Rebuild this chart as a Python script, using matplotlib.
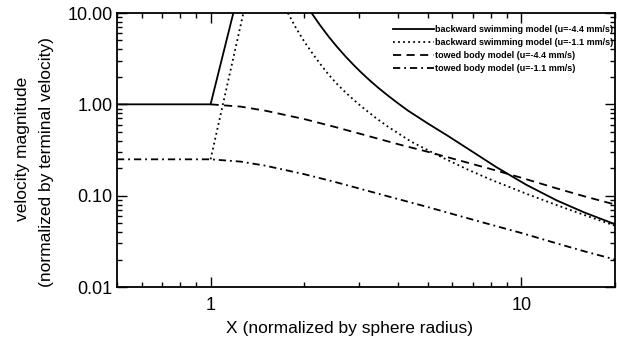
import matplotlib
matplotlib.use('Agg')
import matplotlib.pyplot as plt
from matplotlib.ticker import LogLocator, FixedLocator, FixedFormatter, NullFormatter

plt.rcParams['font.family'] = ['Liberation Sans', 'DejaVu Sans']

# backward swimming model, u=-4.4 mm/s (goes off the top between ~1.2 and ~2.1)
swim44_x = [0.5, 1.0, 1.3, 1.6, 1.8, 2.0, 2.113, 2.25, 2.404, 2.55, 2.716, 2.9, 3.066, 3.25, 3.465,
            3.73, 4.01, 4.31, 5.0, 5.78, 7.0, 8.33, 10.37, 13, 16, 20]
swim44_v = [1.0, 1.0, 36, 200, 50, 13.5, 10.0, 7.35, 5.45, 4.27, 3.35, 2.65, 2.20, 1.83, 1.515,
            1.238, 1.025, 0.856, 0.617, 0.455, 0.299, 0.204, 0.1315, 0.0886, 0.0651, 0.0487]

# backward swimming model, u=-1.1 mm/s
swim11_x = [1.0, 1.3, 1.5, 1.7, 1.773, 1.885, 2.0, 2.128, 2.26, 2.404, 2.55, 2.716, 2.9, 3.066,
            3.4, 3.73, 4.42, 5.51, 6.7, 8.0, 10.37, 13, 16, 20]
swim11_v = [0.25, 13.4, 50, 14.0, 10.0, 6.80, 4.89, 3.60, 2.73, 2.09, 1.675, 1.352, 1.104, 0.939,
            0.710, 0.566, 0.39, 0.266, 0.194, 0.149, 0.105, 0.0787, 0.0611, 0.0469]

# towed body model, u=-4.4 mm/s
tow44_x = [1.0, 1.25, 1.5, 2, 2.5, 3, 4, 5, 6, 8, 10, 13, 16, 20]
tow44_v = [1.0, 0.944, 0.852, 0.69, 0.568, 0.48, 0.367, 0.302, 0.255, 0.195, 0.157, 0.12, 0.098, 0.08]

# towed body model, u=-1.1 mm/s
tow11_x = [0.5, 1.0, 1.25, 1.5, 2, 2.5, 3, 4, 5, 6, 8, 10, 13, 16, 20]
tow11_v = [0.25, 0.25, 0.236, 0.213, 0.172, 0.142, 0.12, 0.092, 0.075, 0.063, 0.048, 0.039, 0.030, 0.0245, 0.020]

labels = ['backward swimming model (u=-4.4 mm/s)',
          'backward swimming model (u=-1.1 mm/s)',
          'towed body model (u=-4.4 mm/s)',
          'towed body model (u=-1.1 mm/s)']

yticks = [0.01, 0.1, 1, 10]
ytick_labels = ['0.01', '0.10', '1.00', '10.00']
xticks = [1, 10]
xtick_labels = ['1', '10']

fig = plt.figure(figsize=(6.17, 3.41), dpi=100)
ax = fig.add_axes([117/617, 1 - 287/341, 498/617, 274/341])

lw = 1.3
ax.plot(swim44_x, swim44_v, color='black', lw=lw, linestyle='-', label=labels[0])
ax.plot(swim11_x, swim11_v, color='black', lw=lw, linestyle=(0, (1, 1.8)), label=labels[1])
ax.plot(tow44_x, tow44_v, color='black', lw=lw, linestyle=(0, (4.5, 3)), label=labels[2])
ax.plot(tow11_x, tow11_v, color='black', lw=lw, linestyle=(0, (4, 2.2, 1, 2.2)), label=labels[3])

ax.set_xscale('log')
ax.set_yscale('log')
ax.set_xlim(0.5, 20)
ax.set_ylim(0.01, 10)

ax.xaxis.set_major_locator(FixedLocator(xticks))
ax.xaxis.set_major_formatter(FixedFormatter(xtick_labels))
ax.xaxis.set_minor_locator(LogLocator(base=10, subs=range(2, 10)))
ax.xaxis.set_minor_formatter(NullFormatter())
ax.yaxis.set_major_locator(FixedLocator(yticks))
ax.yaxis.set_major_formatter(FixedFormatter(ytick_labels))
ax.yaxis.set_minor_locator(LogLocator(base=10, subs=range(2, 10)))
ax.yaxis.set_minor_formatter(NullFormatter())

ax.tick_params(which='both', direction='in', top=True, right=True, width=1.0, labelsize=13)
ax.tick_params(which='major', length=7)
ax.tick_params(which='minor', length=3.5)
ax.tick_params(axis='x', pad=7)
ax.tick_params(axis='y', pad=3)
for s in ax.spines.values():
    s.set_linewidth(1.3)

fig.text(350/617, 1 - 328/341, 'X (normalized by sphere radius)', fontsize=12.5,
         ha='center', va='center')
fig.text(22.5/617, 1 - 149/341, 'velocity magnitude',
         fontsize=12.5, rotation=90, ha='center', va='center')
fig.text(46.5/617, 1 - 162/341, '(normalized by terminal velocity)',
         fontsize=12.5, rotation=90, ha='center', va='center')

ax.legend(loc='upper left', bbox_to_anchor=(393/617, 1 - 25/341),
          bbox_transform=fig.transFigure, frameon=False,
          prop={'size': 6.5, 'weight': 'bold'},
          handlelength=4.5, handletextpad=0.15, labelspacing=0.45,
          borderpad=0, borderaxespad=0)

fig.savefig('out.png', dpi=100)
